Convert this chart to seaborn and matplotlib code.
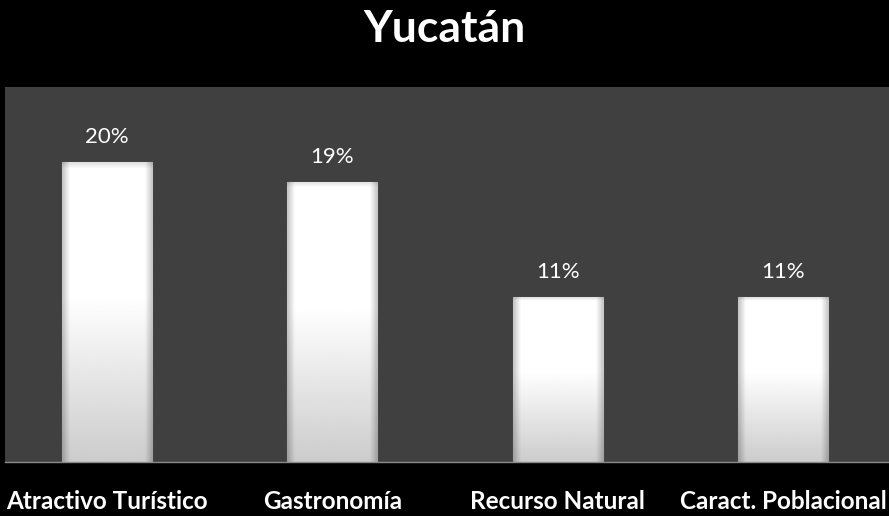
import numpy as np
import pandas as pd
import matplotlib
matplotlib.use("Agg")
import matplotlib.pyplot as plt
import seaborn as sns

# data
categories = ["Atractivo Turístico", "Gastronomía", "Recurso Natural", "Caract. Poblacional"]
shares = [0.20, 0.187, 0.11, 0.11]
labels = ["20%", "19%", "11%", "11%"]

df = pd.DataFrame({"categoria": categories, "valor": shares})

sns.set_style("dark")
plt.rcParams["font.family"] = ["Lato", "DejaVu Sans"]

fig = plt.figure(figsize=(8.89, 5.16), dpi=100, facecolor="black")
ax = fig.add_axes([5 / 889, 54 / 516, 884 / 889, 375 / 516])
ax.set_facecolor("#404040")

sns.barplot(data=df, x="categoria", y="valor", ax=ax, width=0.4,
            color="white", edgecolor="#9a9a9a", linewidth=0.8)

ax.set_xlim(-0.453, 3.471)
ax.set_ylim(0, 0.25)

# soft bevel shading on each bar
ny, nx = 200, 60
yy = np.linspace(0, 1, ny)[:, None]
xx = np.linspace(0, 1, nx)[None, :]
vert = 0.80 + 0.20 * np.clip(yy / 0.55, 0, 1)
side = 1 - 0.22 * np.clip(1 - np.minimum(xx, 1 - xx) / 0.08, 0, 1)
top = 1 - 0.12 * np.clip(1 - (1 - yy) / 0.02, 0, 1)
shade = vert * side * top
for bar in ax.patches:
    x0, w, h = bar.get_x(), bar.get_width(), bar.get_height()
    im = ax.imshow(shade, cmap="gray", vmin=0, vmax=1, origin="lower",
                   extent=[x0, x0 + w, 0, h], aspect="auto", zorder=bar.get_zorder())
    im.set_clip_path(bar)

for bar, lab in zip(ax.patches, labels):
    ax.text(bar.get_x() + bar.get_width() / 2, bar.get_height() + 0.01, lab,
            ha="center", va="bottom", color="white", fontsize=16)

ax.set_xlabel("")
ax.set_ylabel("")
ax.set_yticks([])
ax.tick_params(axis="x", length=0, pad=20, colors="white", labelsize=17.5)
for t in ax.get_xticklabels():
    t.set_fontweight("bold")
for s in ["top", "left", "right"]:
    ax.spines[s].set_visible(False)
ax.spines["bottom"].set_color("#8a8a8a")
ax.spines["bottom"].set_linewidth(1)

fig.text(0.5, 1 - 29 / 516, "Yucatán", ha="center", va="center",
         color="white", fontsize=32, fontweight="bold")

fig.savefig("out.png", dpi=100, facecolor="black")
